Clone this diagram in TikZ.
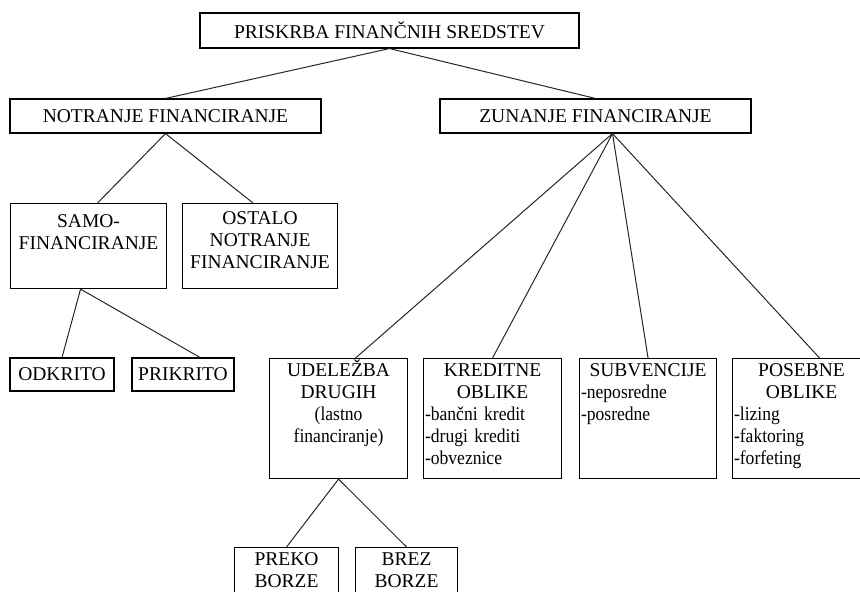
\documentclass[tikz,border=0pt]{standalone}
\usepackage{fontspec}
\setmainfont{Liberation Serif}
\newfontfamily\narrowfont{Liberation Serif}[FakeStretch=0.9, WordSpace=0.8]
\newcommand{\lst}[1]{\makebox[\linewidth][l]{\narrowfont #1}}

\tikzset{
  box/.style={draw, line width=1.1pt, inner xsep=1.5pt, inner ysep=2pt, align=center,
    font=\fontsize{19.5}{22}\selectfont},
  tallbox/.style={box, anchor=north west, text height=16pt},
  link/.style={line width=1pt, black!85}
}

\begin{document}
\begin{tikzpicture}[x=1pt, y=-1pt]
\useasboundingbox (0,0) rectangle (860,592);
\clip (0,0) rectangle (860,592);

\node[box, minimum width=379pt, minimum height=35pt] (pris) at (389.5,30.5) {PRISKRBA FINANČNIH SREDSTEV};
\node[box, minimum width=311pt, minimum height=34pt] (notr) at (165.5,116) {NOTRANJE FINANCIRANJE};
\node[box, minimum width=311pt, minimum height=34pt] (zun) at (595.5,116) {ZUNANJE FINANCIRANJE};

\node[tallbox, text width=153pt, text height=22pt, text depth=59pt] (samo) at (10,203) {SAMO-\\FINANCIRANJE};
\node[tallbox, text width=152pt, text height=19pt, text depth=62pt] (ostalo) at (182,203) {OSTALO\\NOTRANJE\\FINANCIRANJE};
\node[box, minimum width=104pt, minimum height=33pt] (odkr) at (62,374.5) {ODKRITO};
\node[box, minimum width=102pt, minimum height=33pt] (prik) at (183,374.5) {PRIKRITO};

\node[tallbox, text width=135pt, text depth=100pt] (udel) at (269,358)
  {UDELEŽBA\\DRUGIH\\{\narrowfont(lastno}\\{\narrowfont financiranje)}};
\node[tallbox, text width=135pt, text depth=100pt] (kred) at (423,358)
  {KREDITNE\\OBLIKE\\\lst{-bančni kredit}\\\lst{-drugi krediti}\\\lst{-obveznice}};
\node[tallbox, text width=134pt, text depth=100pt] (subv) at (579,358)
  {SUBVENCIJE\\\lst{-neposredne}\\\lst{-posredne}};
\node[tallbox, text width=135pt, text depth=100pt] (pos) at (732,358)
  {POSEBNE\\OBLIKE\\\lst{-lizing}\\\lst{-faktoring}\\\lst{-forfeting}};

\node[tallbox, text width=101pt, text depth=60pt] (preko) at (234,547) {PREKO\\BORZE};
\node[tallbox, text width=99pt, text depth=60pt] (brez) at (355,547) {BREZ\\BORZE};

\draw[link] (pris.south) -- (notr.north);
\draw[link] (pris.south) -- (zun.north);
\draw[link] (notr.south) -- ([xshift=9pt]samo.north);
\draw[link] (notr.south) -- ([xshift=-7pt]ostalo.north);
\draw[link] ([xshift=-8pt]samo.south) -- (odkr.north);
\draw[link] ([xshift=-8pt]samo.south) -- ([xshift=17pt]prik.north);

\coordinate (zfoot) at ([xshift=17pt]zun.south);
\draw[link] (zfoot) -- ([xshift=17pt]udel.north);
\draw[link] (zfoot) -- (kred.north);
\draw[link] (zfoot) -- (subv.north);
\draw[link] (zfoot) -- ([xshift=18pt]pos.north);

\draw[link] (udel.south) -- (preko.north);
\draw[link] (udel.south) -- (brez.north);
\end{tikzpicture}
\end{document}
